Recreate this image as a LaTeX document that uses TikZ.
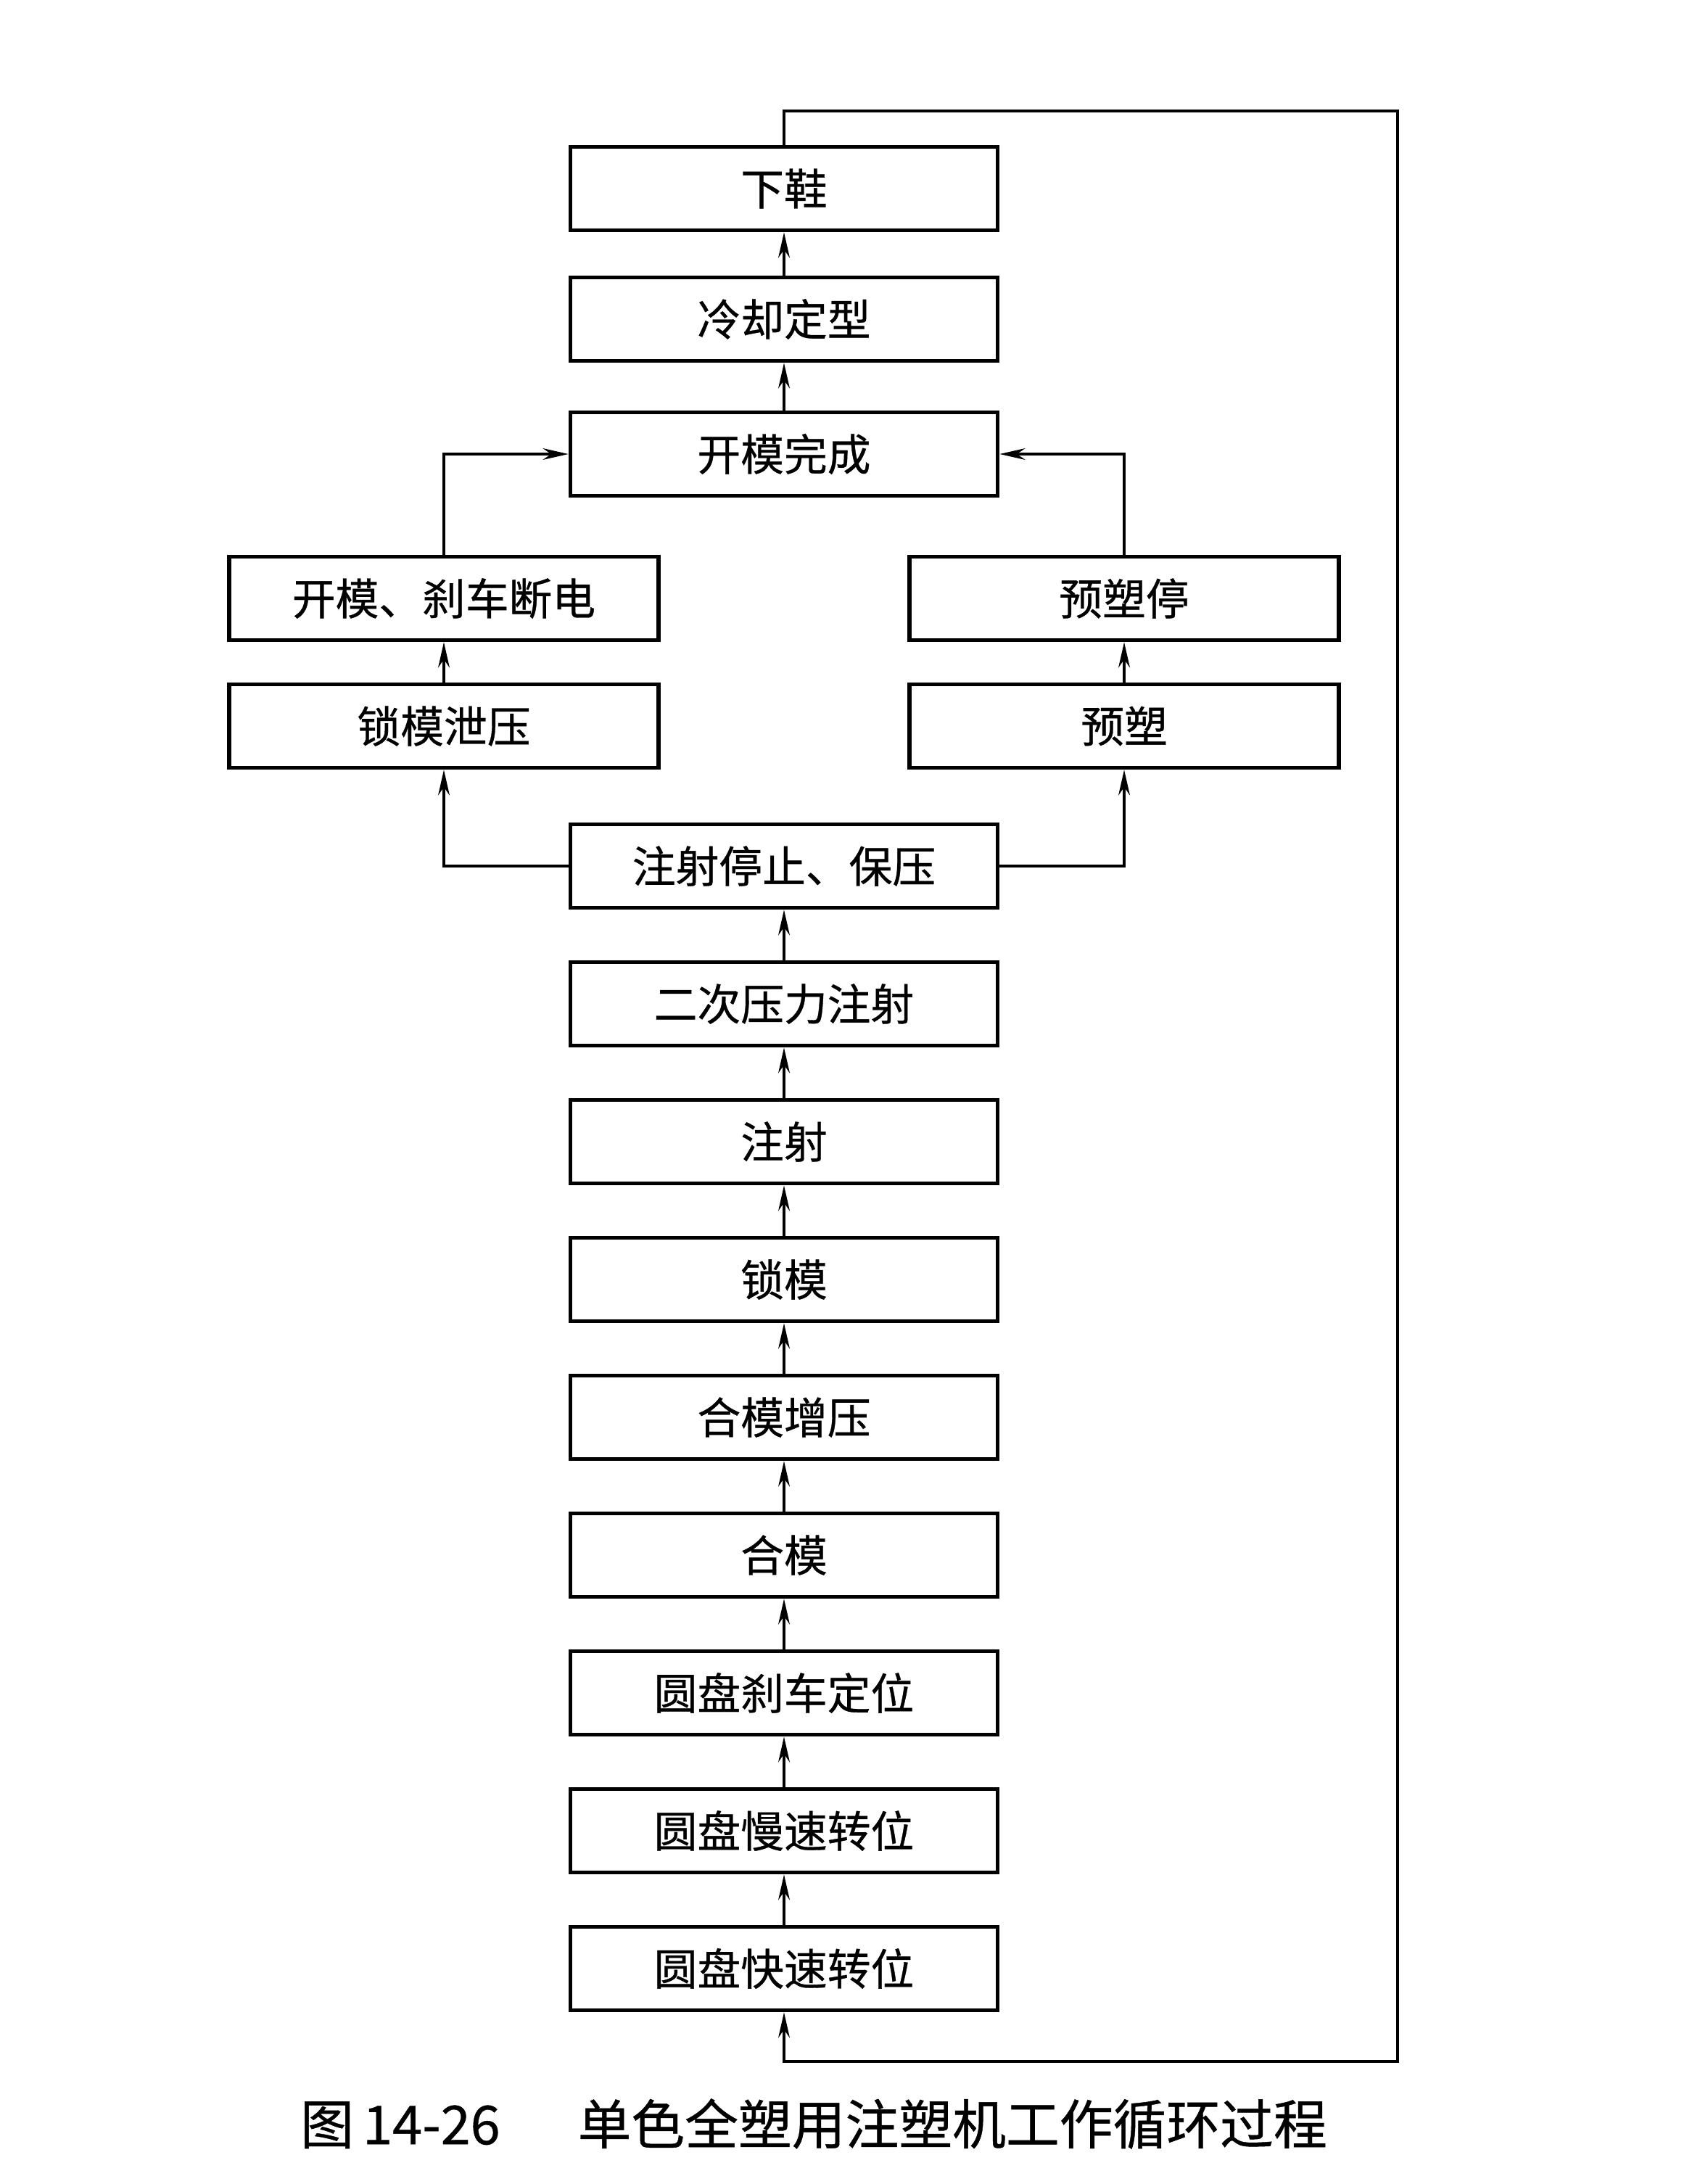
\documentclass[tikz,border=0pt]{standalone}
\usepackage{fontspec}
\newfontfamily\cjk[FakeBold=0.6]{Noto Sans CJK SC}
\usetikzlibrary{arrows.meta,calc,positioning}
\tikzset{
  flow/.style={>={Stealth[length=10pt,width=4.5pt]}, font=\cjk\fontsize{17}{17}\selectfont},
  stepnode/.style={draw, line width=1.6pt, minimum width=5.89cm, minimum height=1.15cm, inner sep=0pt, fill=white},
  sidenode/.style={stepnode, minimum width=5.92cm},
  link/.style={->, line width=1.1pt},
  caption/.style={font=\cjk\fontsize{21}{21}\selectfont},
}

\begin{document}
\begin{tikzpicture}[flow]
  \useasboundingbox (0,0) rectangle (23.54,-30);
  \def\lvl{1.9cm}
  \node (xiexie) at (10.81,-2.60) [stepnode] {下鞋};
  \node (lengque) at (10.81,-4.40) [stepnode] {冷却定型};
  \node (kaimo) at (10.81,-6.26) [stepnode] {开模完成};
  \node (shache) at (6.12,-8.25) [sidenode] {开模、刹车断电};
  \node (xieya) at (6.12,-10.01) [sidenode] {锁模泄压};
  \node (yusuting) at (15.50,-8.25) [sidenode] {预塑停};
  \node (yusu) at (15.50,-10.01) [sidenode] {预塑};
  \node (baoya) at (10.81,-11.94) [stepnode] {注射停止、保压};
  \node (erci) at ($(baoya) + (0,-\lvl)$) [stepnode] {二次压力注射};
  \node (zhushe) at ($(erci) + (0,-\lvl)$) [stepnode] {注射};
  \node (suomo) at ($(zhushe) + (0,-\lvl)$) [stepnode] {锁模};
  \node (zengya) at ($(suomo) + (0,-\lvl)$) [stepnode] {合模增压};
  \node (hemo) at ($(zengya) + (0,-\lvl)$) [stepnode] {合模};
  \node (dingwei) at ($(hemo) + (0,-\lvl)$) [stepnode] {圆盘刹车定位};
  \node (mansu) at ($(dingwei) + (0,-\lvl)$) [stepnode] {圆盘慢速转位};
  \node (kuaisu) at ($(mansu) + (0,-\lvl)$) [stepnode] {圆盘快速转位};

  \coordinate (looptop) at (19.27,-1.53);
  \coordinate (loopbot) at (19.27,-28.42);

  \node (title) at (11.22,-29.28) [caption] {图\,14-26\quad\ \ 单色全塑用注塑机工作循环过程};

  % main chain
  \draw [link] (kuaisu) -- (mansu);
  \draw [link] (mansu) -- (dingwei);
  \draw [link] (dingwei) -- (hemo);
  \draw [link] (hemo) -- (zengya);
  \draw [link] (zengya) -- (suomo);
  \draw [link] (suomo) -- (zhushe);
  \draw [link] (zhushe) -- (erci);
  \draw [link] (erci) -- (baoya);
  \draw [link] (kaimo) -- (lengque);
  \draw [link] (lengque) -- (xiexie);

  % two branches
  \draw [link] (baoya.west) -| (xieya.south);
  \draw [link] (xieya) -- (shache);
  \draw [link] (shache.north) |- (kaimo.west);
  \draw [link] (baoya.east) -| (yusu.south);
  \draw [link] (yusu) -- (yusuting);
  \draw [link] (yusuting.north) |- (kaimo.east);

  % back to start
  \draw [link] (xiexie.north) |- (looptop) -- (loopbot) -| (kuaisu.south);
\end{tikzpicture}
\end{document}
